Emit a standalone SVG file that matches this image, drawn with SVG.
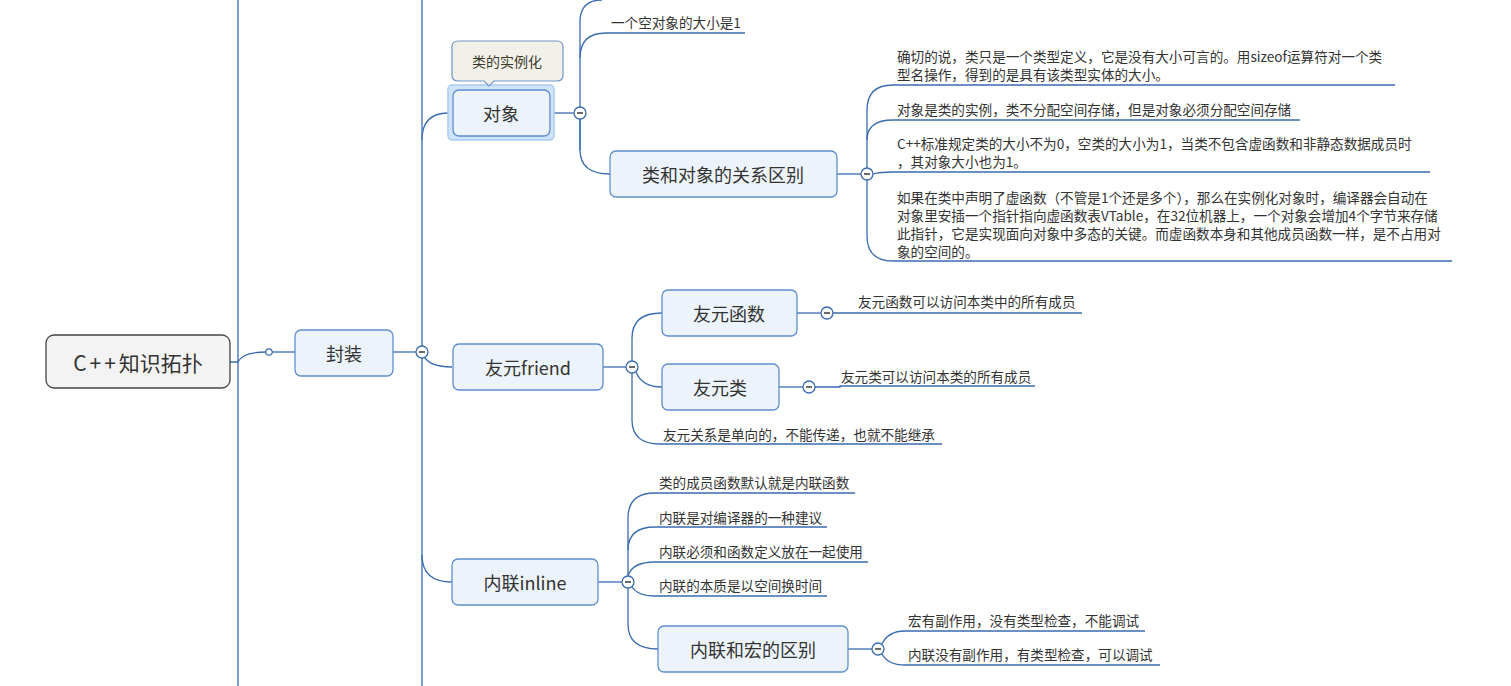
<svg xmlns="http://www.w3.org/2000/svg" width="1511" height="686" viewBox="0 0 1511 686">
<style>
text{font-family:"Noto Sans CJK SC","Liberation Sans",sans-serif;fill:#333}
.n{fill:#edf3fb;stroke:#5e8fcd;stroke-width:1.3}
.nt{font-size:18px;text-anchor:middle;dominant-baseline:central}
.t{font-size:13.6px}
.c{fill:none;stroke:#3a6cb0;stroke-width:1.3}
.col{fill:#fff;stroke:#3a6cb0;stroke-width:1.3}
.m{stroke:#444;stroke-width:1.6}
</style>
<rect width="1511" height="686" fill="#fff"/>
<g id="connectors">
<path class="c" d="M238,0 V686"/>
<path class="c" d="M422,0 V686"/>
<path class="c" d="M230,362 H238 Q242,352 266,352" stroke-width="2"/>
<path class="c" d="M272,352 H295"/>
<path class="c" d="M393,352 H416"/>
<path class="c" d="M422,140 Q422,113 448,113"/>
<path class="c" d="M422,352 Q426,367 452,367"/>
<path class="c" d="M422,555 Q422,582 452,582"/>
<path class="c" d="M550,113 H574"/>
<path class="c" d="M580,150 V22 Q580,0 602,0"/>
<path class="c" d="M580,58 Q580,33 606,33 H745"/>
<path class="c" d="M580,119 V150 Q580,174 610,174"/>
<path class="c" d="M837,174 H861"/>
<path class="c" d="M867,168 V110 Q867,85 893,85 H1395"/>
<path class="c" d="M867,140 Q867,120 893,120 H1300"/>
<path class="c" d="M873,174 Q880,172 893,172 H1430"/>
<path class="c" d="M867,180 V236 Q867,261 893,261 H1452"/>
<path class="c" d="M603,367 H626"/>
<path class="c" d="M632,361 V338 Q632,313 662,313"/>
<path class="c" d="M636,372 Q642,387 662,387"/>
<path class="c" d="M632,373 V420 Q632,444 660,444 H942"/>
<path class="c" d="M797,313 H821"/>
<path class="c" d="M833,313 H1082"/>
<path class="c" d="M779,387 H803"/>
<path class="c" d="M815,387 H840 V386 H1035"/>
<path class="c" d="M598,582 H622"/>
<path class="c" d="M628,576 V518 Q628,493 655,493 H855"/>
<path class="c" d="M628,550 Q628,527 655,527 H827"/>
<path class="c" d="M628,576 Q632,562 655,562 H868"/>
<path class="c" d="M632,587 Q638,596 655,596 H827"/>
<path class="c" d="M628,588 V624 Q628,649 658,649"/>
<path class="c" d="M848,649 H872"/>
<path class="c" d="M882,644 Q888,631 905,631 H1145"/>
<path class="c" d="M882,654 Q888,665 905,665 H1160"/>
<circle cx="269" cy="352" r="3.2" fill="#fff" stroke="#3a6cb0" stroke-width="1.2"/>
</g>
<g id="collapse">
<g><circle class="col" cx="422" cy="352" r="6"/><line class="m" x1="419" y1="352" x2="425" y2="352"/></g>
<g><circle class="col" cx="580" cy="113" r="6"/><line class="m" x1="577" y1="113" x2="583" y2="113"/></g>
<g><circle class="col" cx="867" cy="174" r="6"/><line class="m" x1="864" y1="174" x2="870" y2="174"/></g>
<g><circle class="col" cx="632" cy="367" r="6"/><line class="m" x1="629" y1="367" x2="635" y2="367"/></g>
<g><circle class="col" cx="827" cy="313" r="6"/><line class="m" x1="824" y1="313" x2="830" y2="313"/></g>
<g><circle class="col" cx="809" cy="387" r="6"/><line class="m" x1="806" y1="387" x2="812" y2="387"/></g>
<g><circle class="col" cx="628" cy="582" r="6"/><line class="m" x1="625" y1="582" x2="631" y2="582"/></g>
<g><circle class="col" cx="878" cy="649" r="6"/><line class="m" x1="875" y1="649" x2="881" y2="649"/></g>
</g>
<g id="root"><rect x="46" y="335" width="184" height="53" rx="8" fill="#f3f3f3" stroke="#444" stroke-width="1.3"/><text x="138" y="362" class="nt" style="font-size:21px"><tspan letter-spacing="3">C++</tspan>知识拓扑</text></g>
<g id="fengzhuang"><rect class="n" x="295" y="330" width="98" height="46" rx="6"/><text x="344" y="353" class="nt">封装</text></g>
<g id="duixiang"><rect x="448" y="85" width="106" height="55" rx="4" fill="#cfe3f9" stroke="#a8cdf5" stroke-width="1.5"/><rect class="n" x="453" y="90" width="97" height="46" rx="6"/><text x="501" y="113" class="nt">对象</text></g>
<g id="callout"><path d="M458,41 H557 Q563,41 563,47 V75 Q563,81 557,81 H494 L489,86 L484,81 H458 Q452,81 452,75 V47 Q452,41 458,41 Z" fill="#f2f1e9" stroke="#6f95c8" stroke-width="1.2"/><text x="507" y="61" class="nt" style="font-size:14px;fill:#3a3a2a">类的实例化</text></g>
<g id="empty"><text class="t" x="611" y="28">一个空对象的大小是1</text></g>
<g id="guanxi"><rect class="n" x="610" y="151" width="227" height="46" rx="6"/><text x="723" y="174" class="nt">类和对象的关系区别</text></g>
<g id="g1"><text class="t" x="897" y="62">确切的说，类只是一个类型定义，它是没有大小可言的。用sizeof运算符对一个类</text><text class="t" x="897" y="80">型名操作，得到的是具有该类型实体的大小。</text></g>
<g id="g2"><text class="t" x="897" y="115">对象是类的实例，类不分配空间存储，但是对象必须分配空间存储</text></g>
<g id="g3"><text class="t" x="897" y="149">C++标准规定类的大小不为0，空类的大小为1，当类不包含虚函数和非静态数据成员时</text><text class="t" x="897" y="167">，其对象大小也为1。</text></g>
<g id="g4"><text class="t" x="897" y="203">如果在类中声明了虚函数（不管是1个还是多个），那么在实例化对象时，编译器会自动在</text><text class="t" x="897" y="221">对象里安插一个指针指向虚函数表VTable，在32位机器上，一个对象会增加4个字节来存储</text><text class="t" x="897" y="239">此指针，它是实现面向对象中多态的关键。而虚函数本身和其他成员函数一样，是不占用对</text><text class="t" x="897" y="257">象的空间的。</text></g>
<g id="friend"><rect class="n" x="453" y="344" width="150" height="46" rx="6"/><text x="528" y="367" class="nt">友元friend</text></g>
<g id="friendfn"><rect class="n" x="662" y="290" width="135" height="46" rx="6"/><text x="729" y="313" class="nt">友元函数</text></g>
<g id="friendfn1"><text class="t" x="858" y="307">友元函数可以访问本类中的所有成员</text></g>
<g id="friendcls"><rect class="n" x="662" y="364" width="117" height="46" rx="6"/><text x="720" y="387" class="nt">友元类</text></g>
<g id="friendcls1"><text class="t" x="841" y="382">友元类可以访问本类的所有成员</text></g>
<g id="friend3"><text class="t" x="663" y="440">友元关系是单向的，不能传递，也就不能继承</text></g>
<g id="inline"><rect class="n" x="452" y="559" width="146" height="46" rx="6"/><text x="525" y="582" class="nt">内联inline</text></g>
<g id="in1"><text class="t" x="659" y="488">类的成员函数默认就是内联函数</text></g>
<g id="in2"><text class="t" x="659" y="523">内联是对编译器的一种建议</text></g>
<g id="in3"><text class="t" x="659" y="557">内联必须和函数定义放在一起使用</text></g>
<g id="in4"><text class="t" x="659" y="591">内联的本质是以空间换时间</text></g>
<g id="macro"><rect class="n" x="658" y="626" width="190" height="46" rx="6"/><text x="753" y="649" class="nt">内联和宏的区别</text></g>
<g id="m1"><text class="t" x="908" y="626">宏有副作用，没有类型检查，不能调试</text></g>
<g id="m2"><text class="t" x="908" y="660">内联没有副作用，有类型检查，可以调试</text></g>
</svg>
